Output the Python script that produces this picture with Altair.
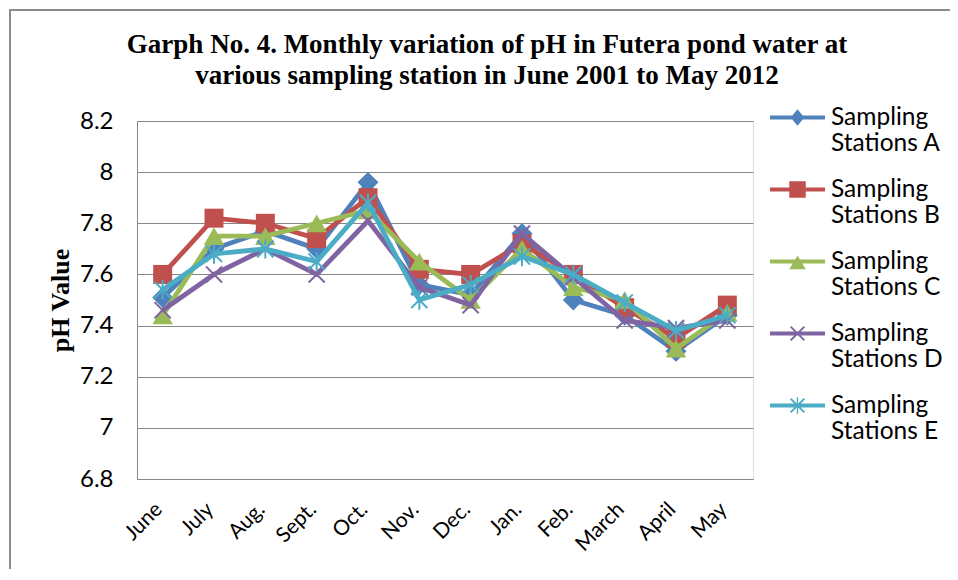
import altair as alt
import pandas as pd

months = ["June", "July", "Aug.", "Sept.", "Oct.", "Nov.", "Dec.", "Jan.", "Feb.", "March", "April", "May"]
stations = ["A", "B", "C", "D", "E"]
station_A = [7.51, 7.70, 7.77, 7.70, 7.96, 7.56, 7.52, 7.76, 7.50, 7.44, 7.30, 7.44]
station_B = [7.60, 7.82, 7.80, 7.74, 7.90, 7.62, 7.60, 7.72, 7.60, 7.47, 7.35, 7.48]
station_C = [7.44, 7.75, 7.75, 7.80, 7.85, 7.65, 7.50, 7.70, 7.55, 7.50, 7.31, 7.45]
station_D = [7.46, 7.60, 7.70, 7.60, 7.81, 7.55, 7.48, 7.76, 7.59, 7.42, 7.39, 7.42]
station_E = [7.54, 7.68, 7.70, 7.65, 7.88, 7.50, 7.56, 7.67, 7.60, 7.49, 7.38, 7.44]
y_ticks = [6.8, 7.0, 7.2, 7.4, 7.6, 7.8, 8.0, 8.2]

colors = ["#4F81BD", "#C0504D", "#9BBB59", "#8064A2", "#4BACC6"]
series = {"A": station_A, "B": station_B, "C": station_C, "D": station_D, "E": station_E}

rows = []
for s in stations:
    for m, v in zip(months, series[s]):
        rows.append({"month": m, "station": s, "value": v})
df = pd.DataFrame(rows)

X_PATH = "M-1,-1L1,1M-1,1L1,-1"
AST_PATH = "M-1,-1L1,1M-1,1L1,-1M0,-1.2L0,1.2"
point_style = {
    "A": dict(shape="diamond", filled=True, size=440),
    "B": dict(shape="square", filled=True, size=360),
    "C": dict(shape="triangle-up", filled=True, size=420),
    "D": dict(shape=X_PATH, filled=False, size=260, strokeWidth=2),
    "E": dict(shape=AST_PATH, filled=False, size=260, strokeWidth=2),
}

LINE = "M-1,-0.075H1V0.075H-1Z"
legend_paths = [
    LINE + "M0,-0.3L0.25,0L0,0.3L-0.25,0Z",
    LINE + "M-0.3,-0.3H0.3V0.3H-0.3Z",
    LINE + "M0,-0.22L0.3,0.28H-0.3Z",
    LINE + "M-0.225,-0.275L0.275,0.225L0.225,0.275L-0.275,-0.225Z"
         + "M-0.275,0.225L0.225,-0.275L0.275,-0.225L-0.225,0.275Z",
    LINE + "M-0.225,-0.275L0.275,0.225L0.225,0.275L-0.275,-0.225Z"
         + "M-0.275,0.225L0.225,-0.275L0.275,-0.225L-0.225,0.275Z"
         + "M-0.025,-0.3H0.025V0.3H-0.025Z",
]

x_enc = alt.X("month:N", sort=months,
              scale=alt.Scale(type="point", padding=0.5),
              axis=alt.Axis(title=None, labelAngle=-45, labelAlign="right", labelBaseline="middle",
                            labelFont="Lato", labelFontSize=21, labelColor="black", labelPadding=27,
                            labelOffset=-4,
                            ticks=False, domainColor="#868686", grid=False))
y_enc = alt.Y("value:Q",
              scale=alt.Scale(domain=[6.8, 8.2], nice=False, zero=False),
              axis=alt.Axis(title="pH Value", values=y_ticks, format="~g",
                            labelFont="Lato", labelFontSize=24, labelColor="black", labelPadding=24,
                            ticks=False, domainColor="#868686", gridColor="#868686", gridWidth=1,
                            titleFont="Liberation Serif", titleFontWeight="bold", titleFontSize=26,
                            titleColor="black", titleAngle=270, titleX=-77, titleY=179,
                            titleAlign="center", titleBaseline="middle"))

base = alt.Chart(df)
layers = []
for s, c in zip(stations, colors):
    d = base.transform_filter(alt.datum.station == s)
    layers.append(d.mark_line(color=c, strokeWidth=4.8).encode(x=x_enc, y=y_enc))
    st = point_style[s]
    kw = dict(shape=st["shape"], filled=st["filled"], size=st["size"], opacity=1)
    if st["filled"]:
        kw["fill"] = c
    else:
        kw["stroke"] = c
        kw["strokeWidth"] = st["strokeWidth"]
    layers.append(d.mark_point(**kw).encode(x=x_enc, y=y_enc))

# outer chart frame (decoration only)
frame_src = alt.Chart(pd.DataFrame({"k": [0]}))
frame_top = frame_src.mark_rule(color="#8c8c8c", strokeWidth=2).encode(
    x=alt.value(-127), x2=alt.value(821), y=alt.value(-111))
frame_left = frame_src.mark_rule(color="#8c8c8c", strokeWidth=2).encode(
    x=alt.value(-127), y=alt.value(-112), y2=alt.value(459))

lkw = dict(title=None, orient="none", legendX=633, legendY=-31,
           labelExpr="['Sampling', 'Stations ' + datum.label]",
           labelFont="Lato", labelFontSize=24.5, labelColor="black", labelLimit=300,
           labelOffset=6, labelBaseline="middle",
           symbolSize=3025, symbolOpacity=1, symbolStrokeWidth=0,
           rowPadding=6, padding=0)
legend_layer = base.mark_point(filled=True, opacity=0).encode(
    x=x_enc, y=y_enc,
    color=alt.Color("station:N", scale=alt.Scale(domain=stations, range=colors),
                    legend=alt.Legend(**lkw)),
    shape=alt.Shape("station:N", scale=alt.Scale(domain=stations, range=legend_paths),
                    legend=alt.Legend(**lkw)),
)

chart = alt.layer(frame_top, frame_left, *layers, legend_layer).properties(
    width=616, height=358,
    title=alt.Title(["Garph No. 4. Monthly variation of pH in Futera pond water at",
                     "various sampling station in June 2001 to May 2012"],
                    font="Liberation Serif", fontWeight="bold", fontSize=27, color="black",
                    anchor="middle", frame="group", dx=42, dy=82, offset=0, lineHeight=31),
    autosize=alt.AutoSizeParams(type="none"),
    padding={"left": 129, "top": 113, "right": 197, "bottom": 90},
).configure_view(stroke=None).configure(background="white")

chart.save("out.html", embed_options={"renderer": "svg", "actions": False})
